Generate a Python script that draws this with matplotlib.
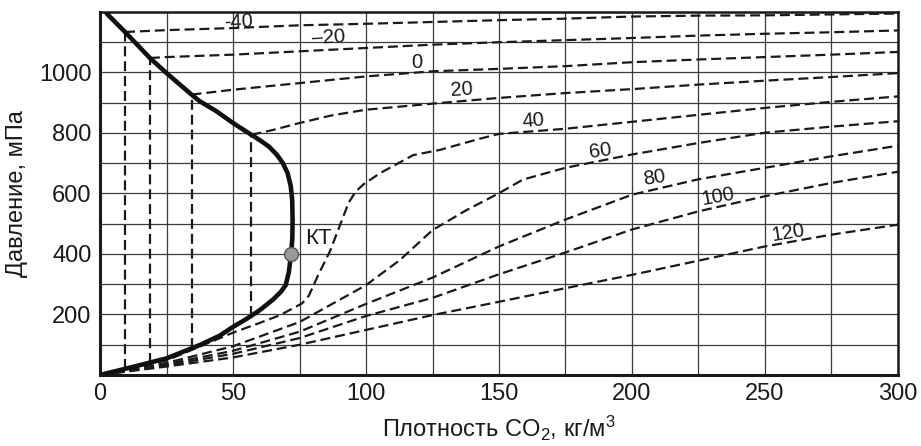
import numpy as np
import matplotlib.pyplot as plt
from matplotlib.ticker import MultipleLocator

plt.rcParams['font.family'] = ['Liberation Sans', 'DejaVu Sans']
plt.rcParams['mathtext.default'] = 'regular'

# saturation curve (bell), lower branch from origin to critical point
sat_low_x = [0, 6, 12.5, 25, 37.5, 45, 50, 55, 60, 65, 68, 69.8, 71, 71.8]
sat_low_y = [0, 13, 27, 55, 99, 130, 159, 185, 214, 249, 275, 297, 340, 400]
# upper branch from critical point to top
sat_up_x = [71.8, 72.3, 72.4, 72.25, 71.7, 70.5, 68.75, 66.5, 63.5, 60.3, 56.9,
            50, 43.75, 37.5, 34.4, 25, 18.75, 9.4, 2.5]
sat_up_y = [400, 450, 511, 579, 625, 668, 700, 728, 755, 775, 794,
            833, 872, 905, 927, 998, 1048, 1134, 1195]

kt = (71.8, 400)

# tie lines (densities of the vertical dashed lines)
tie_x = [9.4, 18.75, 34.4, 56.9]

# isotherms
iso_labels = ['-40', '\u201320', '0', '20', '40', '60', '80', '100', '120']
iso_x = [
    [9.4, 25, 50, 75, 100, 125, 150, 175, 200, 225, 250, 300],
    [18.75, 25, 50, 75, 100, 125, 150, 175, 200, 225, 250, 275, 300],
    [34.4, 50, 75, 100, 125, 150, 175, 200, 225, 250, 275, 300],
    [56.9, 65, 75, 87, 100, 125, 150, 175, 200, 225, 250, 275, 300],
    [0, 25, 50, 60, 67.75, 76, 78.5, 82, 86.5, 90.25, 93.5, 96, 99, 105.25, 117.75,
     127.75, 142.75, 150, 175, 200, 225, 250, 275, 300],
    [0, 25, 50, 75, 100, 112.75, 125, 137.75, 150, 159, 175, 200, 225, 250, 275, 300],
    [0, 25, 50, 75, 100, 125, 150, 175, 200, 225, 250, 275, 300],
    [0, 25, 50, 75, 100, 125, 150, 175, 200, 225, 250, 275, 300],
    [0, 25, 50, 75, 100, 125, 150, 175, 200, 225, 250, 275, 300],
]
iso_y = [
    [1134, 1140, 1147, 1156, 1161, 1167, 1173, 1178, 1185, 1188, 1189, 1195],
    [1048, 1051, 1059, 1070, 1081, 1092, 1100, 1107, 1114, 1122, 1128, 1133, 1139],
    [927, 943, 965, 987, 1004, 1012, 1021, 1034, 1043, 1051, 1059, 1068],
    [794, 810, 833, 858, 877, 897, 916, 932, 945, 960, 973, 985, 998],
    [0, 48, 140, 172, 198, 237, 262, 330, 410, 496, 570, 605, 630, 667, 727,
     744, 781, 797, 814, 837, 860, 883, 903, 921],
    [0, 40, 95, 175, 297, 380, 479, 545, 601, 646, 685, 729, 767, 801, 821, 839],
    [0, 36, 80, 143, 235, 322, 425, 514, 596, 647, 685, 723, 758],
    [0, 32, 70, 122, 195, 255, 333, 405, 481, 541, 591, 635, 672],
    [0, 28, 58, 100, 149, 198, 242, 287, 331, 378, 425, 464, 497],
]
# label anchor points and rotation
lab_x = [52, 86, 119, 136, 163, 188, 208.5, 232.4, 258.6]
lab_y = [1168, 1116, 1033, 942, 840, 740, 652, 590, 468]
lab_rot = [2, 3, 0, 4, 4, 8, 9, 10, 9]

fig = plt.figure(figsize=(9.21, 4.46), dpi=100)
ax = fig.add_axes([0.1086, 0.1592, 0.8664, 0.8139])

dash = dict(color='#1a1a1a', lw=1.6, dashes=(4.5, 2.2))

for xs, ys in zip(iso_x, iso_y):
    ax.plot(xs, ys, zorder=3, **dash)

for tx in tie_x:
    y_top = np.interp(tx, sat_up_x[::-1], sat_up_y[::-1])
    y_bot = np.interp(tx, sat_low_x, sat_low_y)
    ax.plot([tx, tx], [y_bot, y_top], zorder=3, **dash)

sat_x = sat_low_x + sat_up_x[1:]
sat_y = sat_low_y + sat_up_y[1:]
ax.plot(sat_x, sat_y, color='#111111', lw=3.3, zorder=4,
        solid_capstyle='round', solid_joinstyle='round')
ax.plot(*kt, 'o', ms=10, mfc='#999999', mec='#555555', mew=1, zorder=5)
ax.text(77, 450, 'КТ', fontsize=16, color='#1a1a1a', va='center', ha='left', zorder=6)

for lb, x, y, r in zip(iso_labels, lab_x, lab_y, lab_rot):
    ax.text(x, y, lb, fontsize=14.5, color='#1a1a1a', ha='center', va='center',
            rotation=r, rotation_mode='anchor', zorder=6)

ax.set_xlim(0, 300)
ax.set_ylim(0, 1200)
ax.xaxis.set_major_locator(MultipleLocator(50))
ax.xaxis.set_minor_locator(MultipleLocator(25))
ax.set_yticks([200, 400, 600, 800, 1000])
ax.yaxis.set_minor_locator(MultipleLocator(100))
ax.grid(which='both', color='#3a3a3a', lw=0.9, zorder=1)
ax.set_axisbelow(True)
ax.tick_params(which='both', length=0, labelsize=17, colors='#1a1a1a', pad=6)

for side in ['left', 'bottom']:
    ax.spines[side].set_linewidth(2.2)
for side in ['top', 'right']:
    ax.spines[side].set_linewidth(1.8)
for s in ax.spines.values():
    s.set_color('#1a1a1a')

ax.set_xlabel('Плотность CO$_2$, кг/м$^3$', fontsize=17, color='#1a1a1a', labelpad=6)
ax.set_ylabel('Давление, мПа', fontsize=17, color='#1a1a1a', labelpad=8)

fig.savefig('out.png', dpi=100)
